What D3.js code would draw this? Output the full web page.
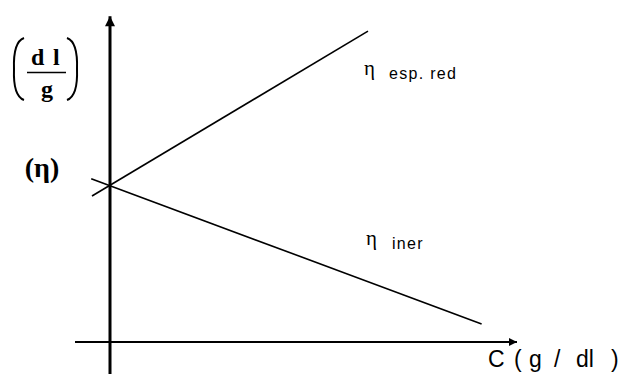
<!DOCTYPE html>
<html>
<head>
<meta charset="utf-8">
<script src="https://cdn.jsdelivr.net/npm/d3@7"></script>
<style>
  html, body { margin: 0; padding: 0; background: #fff; }
  svg { display: block; }
</style>
</head>
<body>
<svg id="chart" width="624" height="374"></svg>
<script>
// Concentration (g/dl) at the two ends of each line
const cEspRed = [-0.45, 6.45];
const etaEspRed = [0.93, 1.98];
const cIner = [-0.47, 9.29];
const etaIner = [1.04, 0.115];

// Axis extents in data units
const xAxisExtent = [-0.875, 10.175];
const yAxisExtent = [-0.21, 2.075];

const svg = d3.select("#chart");
const x = d3.scaleLinear().domain([0, 10]).range([110, 510]);
const y = d3.scaleLinear().domain([0, 2]).range([342, 28]);

const sans = "'Liberation Sans', Arial, sans-serif";
const serif = "'Liberation Serif', 'Times New Roman', serif";

// Arrowheads
const defs = svg.append("defs");
defs.append("marker")
  .attr("id", "arrowY")
  .attr("viewBox", "0 0 10 10")
  .attr("refX", 10).attr("refY", 5)
  .attr("markerUnits", "userSpaceOnUse")
  .attr("markerWidth", 11).attr("markerHeight", 10)
  .attr("orient", "auto")
  .append("path").attr("d", "M0,0 L10,5 L0,10 Z").attr("fill", "#000");
defs.append("marker")
  .attr("id", "arrowX")
  .attr("viewBox", "0 0 10 10")
  .attr("refX", 10).attr("refY", 5)
  .attr("markerUnits", "userSpaceOnUse")
  .attr("markerWidth", 11).attr("markerHeight", 8)
  .attr("orient", "auto")
  .append("path").attr("d", "M0,0 L10,5 L0,10 Z").attr("fill", "#000");

// Axes
svg.append("line")
  .attr("x1", x(xAxisExtent[0])).attr("x2", x(xAxisExtent[1]))
  .attr("y1", y(0)).attr("y2", y(0))
  .attr("stroke", "#000").attr("stroke-width", 2)
  .attr("marker-end", "url(#arrowX)");
svg.append("line")
  .attr("x1", x(0)).attr("x2", x(0))
  .attr("y1", y(yAxisExtent[0])).attr("y2", y(yAxisExtent[1]))
  .attr("stroke", "#000").attr("stroke-width", 3)
  .attr("marker-end", "url(#arrowY)");

// Viscosity lines
const line = d3.line().x(d => x(d[0])).y(d => y(d[1]));
const series = [
  d3.zip(cEspRed, etaEspRed),
  d3.zip(cIner, etaIner)
];
svg.selectAll("path.visc")
  .data(series)
  .join("path")
  .attr("class", "visc")
  .attr("d", line)
  .attr("fill", "none")
  .attr("stroke", "#000")
  .attr("stroke-width", 1.6);

// Series labels
function seriesLabel(etaX, etaY, subX, subY, sub) {
  svg.append("text").attr("x", etaX).attr("y", etaY)
    .attr("font-family", serif).attr("font-size", 21).attr("fill", "#000")
    .text("η");
  svg.append("text").attr("x", subX).attr("y", subY)
    .attr("font-family", sans).attr("font-size", 16)
    .attr("letter-spacing", 1.3).attr("fill", "#000")
    .text(sub);
}
seriesLabel(364, 75, 389, 79, "esp. red");
seriesLabel(366, 245, 392, 249, "iner");

// X-axis title, spaced out token by token
const xTitle = [["C", 488], ["(", 514], ["g", 529], ["/", 554], ["dl", 576], [")", 611]];
svg.append("g")
  .selectAll("text")
  .data(xTitle)
  .join("text")
  .attr("x", d => d[1]).attr("y", 367)
  .attr("font-family", sans).attr("font-size", 23).attr("fill", "#000")
  .text(d => d[0]);

// Y-axis unit: (dl / g) as a fraction in large parentheses
svg.append("text")
  .attr("x", 31).attr("y", 65)
  .attr("font-family", serif).attr("font-weight", "bold")
  .attr("font-size", 24).attr("fill", "#000")
  .text("d");
svg.append("text")
  .attr("x", 53).attr("y", 65)
  .attr("font-family", serif).attr("font-weight", "bold")
  .attr("font-size", 24).attr("fill", "#000")
  .text("l");
svg.append("line")
  .attr("x1", 27).attr("x2", 66).attr("y1", 72.5).attr("y2", 72.5)
  .attr("stroke", "#000").attr("stroke-width", 1.5);
svg.append("text")
  .attr("x", 47).attr("y", 97)
  .attr("text-anchor", "middle")
  .attr("font-family", serif).attr("font-weight", "bold")
  .attr("font-size", 24).attr("fill", "#000")
  .text("g");
svg.append("path")
  .attr("d", "M24,38 Q13,42 14,69 Q13,96 24,100")
  .attr("fill", "none").attr("stroke", "#000").attr("stroke-width", 2);
svg.append("path")
  .attr("d", "M67,38 Q78,42 77,69 Q78,96 67,100")
  .attr("fill", "none").attr("stroke", "#000").attr("stroke-width", 2);

// (η)
svg.append("text")
  .attr("x", 42).attr("y", 177)
  .attr("text-anchor", "middle")
  .attr("font-family", serif).attr("font-weight", "bold")
  .attr("font-size", 28).attr("fill", "#000")
  .text("(η)");
</script>
</body>
</html>
